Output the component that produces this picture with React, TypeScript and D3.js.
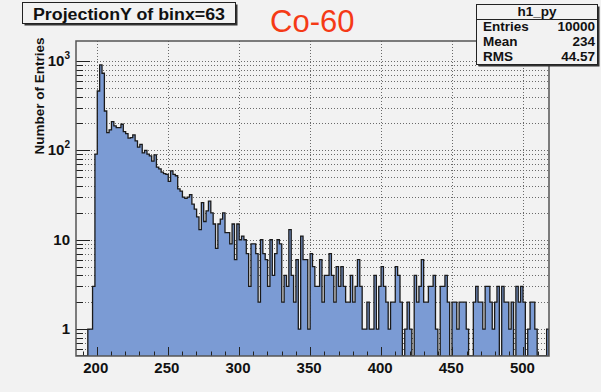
import React from 'react';
import * as d3 from 'd3';

// bin contents, 200 equal bins across the x range
const binCounts = [
  0, 0, 0, 0, 0, 1, 1, 3, 91, 462,
  904, 730, 276, 158, 170, 210, 188, 180, 180, 196,
  162, 154, 137, 139, 149, 128, 109, 117, 94, 100,
  91, 87, 76, 89, 65, 62, 57, 55, 54, 45,
  59, 54, 52, 37, 35, 30, 29, 30, 32, 25,
  22, 18, 13, 26, 16, 21, 27, 20, 15, 8,
  15, 17, 20, 12, 12, 9, 15, 6, 15, 10,
  11, 10, 7, 3, 9, 9, 7, 2, 10, 7,
  6, 3, 10, 4, 7, 10, 9, 2, 4, 3,
  13, 4, 2, 6, 1, 11, 6, 6, 1, 7,
  5, 3, 3, 6, 2, 4, 4, 7, 4, 2,
  5, 3, 5, 3, 2, 2, 4, 2, 3, 6,
  3, 1, 1, 2, 1, 1, 4, 1, 3, 5,
  3, 2, 1, 2, 2, 5, 4, 2, 0, 1,
  2, 1, 0, 4, 2, 3, 6, 2, 2, 3,
  3, 4, 1, 0, 3, 3, 4, 2, 0, 2,
  2, 1, 2, 2, 2, 1, 0, 0, 2, 3,
  2, 2, 1, 3, 3, 2, 1, 2, 3, 0,
  3, 2, 2, 1, 2, 0, 3, 2, 3, 2,
  0, 1, 2, 2, 1, 0, 0, 0, 0, 1,
];
const xRange = [185.4, 518];
const yRange = [0.5, 1675];

const xMajorTicks = [200, 250, 300, 350, 400, 450, 500];
const xMinorTicks = [190, 210, 220, 230, 240, 260, 270, 280, 290, 310, 320, 330, 340, 360, 370, 380, 390, 410, 420, 430, 440, 460, 470, 480, 490, 510];
const yMajorTicks = [1, 10, 100, 1000];
const yTickLabels = [['1', ''], ['10', ''], ['10', '2'], ['10', '3']];
const yMinorTicks = [0.6, 0.7, 0.8, 0.9, 2, 3, 4, 5, 6, 7, 8, 9, 20, 30, 40, 50, 60, 70, 80, 90, 200, 300, 400, 500, 600, 700, 800, 900];

const histTitle = 'ProjectionY of binx=63';
const annotation = 'Co-60';
const yTitle = 'Number of Entries';
const statsName = 'h1_py';
const statsRows = [['Entries', '10000'], ['Mean', '234'], ['RMS', '44.57']];

const W = 601, H = 392;
const frame = { left: 76, right: 549, top: 41, bottom: 356 };
const BG = '#f2f2f2';
const FONT = '"Liberation Sans", Arial, Helvetica, sans-serif';

export default function App() {
  const x = d3.scaleLinear().domain(xRange).range([frame.left, frame.right]);
  const y = d3.scaleLog().domain(yRange).range([frame.bottom, frame.top]).clamp(true);

  const bw = (xRange[1] - xRange[0]) / binCounts.length;
  const pts: [number, number][] = [[x(xRange[0]), frame.bottom]];
  binCounts.forEach((c, i) => {
    const yy = c > 0 ? y(c) : frame.bottom;
    pts.push([x(xRange[0] + i * bw), yy]);
    pts.push([x(xRange[0] + (i + 1) * bw), yy]);
  });
  pts.push([x(xRange[1]), frame.bottom]);

  const line = d3.line<[number, number]>().x(d => d[0]).y(d => d[1]);
  const area = d3.area<[number, number]>().x(d => d[0]).y0(frame.bottom).y1(d => d[1]);

  const r = (v: number) => Math.round(v) + 0.5;

  return (
    <svg width={W} height={H} style={{ position: 'absolute', left: 0, top: 0, background: BG }} fontFamily={FONT}>
      <rect x={0} y={0} width={W} height={H} fill={BG} />
      <defs>
        <clipPath id="frameClip">
          <rect x={frame.left} y={frame.top} width={frame.right - frame.left} height={frame.bottom - frame.top} />
        </clipPath>
      </defs>

      {/* grid */}
      <g stroke="#6a6a6a" strokeWidth={1} strokeDasharray="1,2">
        {xMajorTicks.map(t => (
          <line key={'gx' + t} x1={r(x(t))} x2={r(x(t))} y1={frame.top} y2={frame.bottom} />
        ))}
        {[...yMajorTicks, ...yMinorTicks].map(t => (
          <line key={'gy' + t} x1={frame.left} x2={frame.right} y1={r(y(t))} y2={r(y(t))} />
        ))}
      </g>

      {/* histogram */}
      <g clipPath="url(#frameClip)">
        <path d={area(pts) || ''} fill="#7b9bd4" />
        <path d={line(pts) || ''} fill="none" stroke="#1a1a1a" strokeWidth={1.3} />
      </g>

      {/* ticks */}
      <g stroke="#222" strokeWidth={1}>
        {xMajorTicks.map(t => (
          <line key={'tx' + t} x1={r(x(t))} x2={r(x(t))} y1={frame.bottom} y2={frame.bottom - 9} />
        ))}
        {xMinorTicks.map(t => (
          <line key={'tmx' + t} x1={r(x(t))} x2={r(x(t))} y1={frame.bottom} y2={frame.bottom - 4.5} />
        ))}
        {yMajorTicks.map(t => (
          <line key={'ty' + t} x1={frame.left} x2={frame.left + 14} y1={r(y(t))} y2={r(y(t))} />
        ))}
        {yMinorTicks.map(t => (
          <line key={'tmy' + t} x1={frame.left} x2={frame.left + 7} y1={r(y(t))} y2={r(y(t))} />
        ))}
      </g>

      {/* frame */}
      <rect x={frame.left} y={frame.top} width={frame.right - frame.left} height={frame.bottom - frame.top}
        fill="none" stroke="#555" strokeWidth={1.5} />

      {/* x labels */}
      <g fontSize={15} fontWeight="bold" fill="#111" textAnchor="middle">
        {xMajorTicks.map(t => (
          <text key={'lx' + t} x={x(t) - 1} y={373}>{t}</text>
        ))}
      </g>

      {/* y labels */}
      <g fontSize={15} fontWeight="bold" fill="#111" textAnchor="end">
        {yMajorTicks.map((t, i) => {
          const [base, exp] = yTickLabels[i];
          if (!exp) return <text key={'ly' + t} x={70} y={y(t) + 5}>{base}</text>;
          return (
            <text key={'ly' + t} x={70} y={y(t) + 5}>
              {base}
              <tspan fontSize={10} dy={-7}>{exp}</tspan>
            </text>
          );
        })}
      </g>

      <text transform="translate(44,96) rotate(-90)" textAnchor="middle" fontSize={13.5} fontWeight="bold" fill="#111">
        {yTitle}
      </text>

      {/* title box */}
      <rect x={24.5} y={4.5} width={213} height={21} fill="#333" />
      <rect x={22.5} y={2.5} width={213} height={21} fill={BG} stroke="#222" strokeWidth={1} />
      <text x={129} y={19.5} textAnchor="middle" fontSize={16} fontWeight="bold" fill="#111"
        textLength={192} lengthAdjust="spacingAndGlyphs">{histTitle}</text>

      <text x={270} y={32} fontSize={31} fill="#f53a16">{annotation}</text>

      {/* stats box */}
      <rect x={478.5} y={6.5} width={121} height={60} fill="#333" />
      <rect x={476.5} y={4.5} width={121} height={60} fill={BG} stroke="#222" strokeWidth={1} />
      <line x1={476.5} x2={597.5} y1={19.5} y2={19.5} stroke="#222" strokeWidth={1} />
      <text x={537} y={16} textAnchor="middle" fontSize={13.5} fontWeight="bold" fill="#111">{statsName}</text>
      {statsRows.map((row, i) => (
        <g key={row[0]} fontSize={13.5} fontWeight="bold" fill="#111">
          <text x={483} y={30.5 + i * 15.3}>{row[0]}</text>
          <text x={595} y={30.5 + i * 15.3} textAnchor="end">{row[1]}</text>
        </g>
      ))}
    </svg>
  );
}
